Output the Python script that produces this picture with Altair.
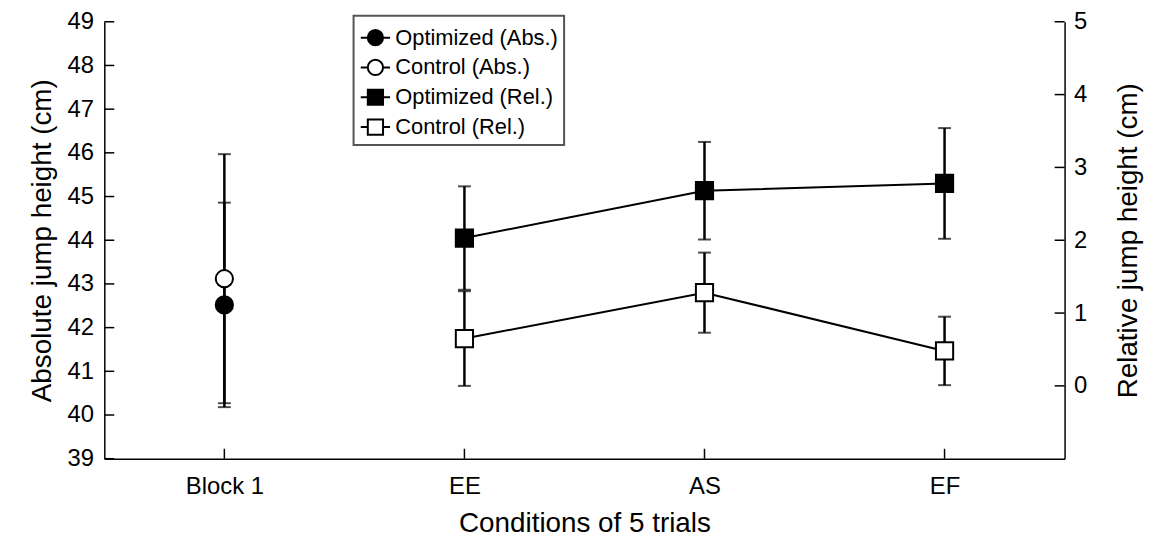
import altair as alt
import pandas as pd

FONT = "Liberation Sans"

# ---------------- data ----------------
categories = ["Block 1", "EE", "AS", "EF"]

abs_series = ["Optimized (Abs.)", "Control (Abs.)"]
abs_mean = [42.52, 43.12]
abs_err = [2.34, 2.85]
abs_fill = ["black", "white"]

rel_conditions = ["EE", "AS", "EF"]
rel_opt_mean = [2.03, 2.68, 2.78]
rel_opt_err = [0.71, 0.67, 0.76]
rel_ctrl_mean = [0.65, 1.28, 0.48]
rel_ctrl_err = [0.65, 0.55, 0.47]

legend_labels = ["Optimized (Abs.)", "Control (Abs.)", "Optimized (Rel.)", "Control (Rel.)"]
legend_fills = ["black", "white", "black", "white"]

left_ticks = list(range(39, 50))
right_ticks = [0, 1, 2, 3, 4, 5]

W, H = 967, 440
TICK = 10

# ---------------- tables ----------------
abs_df = pd.DataFrame({
    "cond": ["Block 1"] * len(abs_series),
    "series": abs_series,
    "mean": abs_mean,
    "lo": [m - e for m, e in zip(abs_mean, abs_err)],
    "hi": [m + e for m, e in zip(abs_mean, abs_err)],
    "fc": abs_fill,
    "shp": ["circle"] * len(abs_series),
})

rel_rows = []
for c, m, e in zip(rel_conditions, rel_opt_mean, rel_opt_err):
    rel_rows.append(dict(cond=c, series="Optimized (Rel.)", mean=m, lo=m - e, hi=m + e, fc="black", shp="square"))
for c, m, e in zip(rel_conditions, rel_ctrl_mean, rel_ctrl_err):
    rel_rows.append(dict(cond=c, series="Control (Rel.)", mean=m, lo=m - e, hi=m + e, fc="white", shp="square"))
rel_df = pd.DataFrame(rel_rows)

legend_df = pd.DataFrame({"series": legend_labels})
left_tick_df = pd.DataFrame({"val": left_ticks})
right_tick_df = pd.DataFrame({"val": right_ticks})
cat_df = pd.DataFrame({"cond": categories})

# ---------------- scales / axes ----------------
common_axis = dict(
    ticks=False, tickSize=0, grid=False, domainColor="black", domainWidth=1.5,
    labelFont=FONT, titleFont=FONT, labelColor="black", titleColor="black",
    labelFontSize=24, titleFontSize=28, titleFontWeight="normal",
)
xscale = alt.Scale(type="point", domain=categories, padding=0.5)
xaxis = alt.Axis(title="Conditions of 5 trials", labelPadding=16, titlePadding=11, labelAngle=0, **common_axis)

lscale = alt.Scale(domain=[39, 49], nice=False, zero=False)
laxis = alt.Axis(title="Absolute jump height (cm)", values=left_ticks, format="d",
                 labelPadding=11, titlePadding=11, orient="left", **common_axis)
rscale = alt.Scale(domain=[-1, 5], nice=False, zero=False)
raxis = alt.Axis(title="Relative jump height (cm)", values=right_ticks, format="d",
                 labelPadding=9, titlePadding=28, orient="right", titleAngle=270,
                 titleBaseline="top", **common_axis)


def X(field="cond"):
    return alt.X(f"{field}:N", scale=xscale, axis=xaxis)


def YL(field):
    return alt.Y(f"{field}:Q", scale=lscale, axis=laxis)


def YR(field):
    return alt.Y(f"{field}:Q", scale=rscale, axis=raxis)


BLACK = "black"

# ---------------- left (absolute) layer ----------------
abs_base = alt.Chart(abs_df)
abs_err_rule = abs_base.mark_rule(color=BLACK, strokeWidth=2.5).encode(x=X(), y=YL("lo"), y2="hi:Q")
abs_cap_lo = abs_base.mark_tick(color=BLACK, thickness=2, size=13).encode(x=X(), y=YL("lo"))
abs_cap_hi = abs_base.mark_tick(color=BLACK, thickness=2, size=13).encode(x=X(), y=YL("hi"))
abs_pts = abs_base.mark_point(filled=True, size=300, stroke=BLACK, strokeWidth=2, opacity=1).encode(
    x=X(), y=YL("mean"),
    shape=alt.Shape("shp:N", scale=None),
    fill=alt.Fill("fc:N", scale=None),
)
left_ticks_rule = alt.Chart(left_tick_df).mark_rule(color=BLACK, strokeWidth=1.5).encode(
    y=YL("val"), x=alt.value(0), x2=alt.value(TICK)
)
bottom_ticks_rule = alt.Chart(cat_df).mark_rule(color=BLACK, strokeWidth=1.5).encode(
    x=X(), y=alt.value(H), y2=alt.value(H - TICK)
)
left_layer = alt.layer(left_ticks_rule, bottom_ticks_rule, abs_err_rule, abs_cap_lo, abs_cap_hi, abs_pts)

# ---------------- right (relative) layer ----------------
rel_base = alt.Chart(rel_df)
rel_lines = rel_base.mark_line(color=BLACK, strokeWidth=2).encode(x=X(), y=YR("mean"), detail="series:N")
rel_err_rule = rel_base.mark_rule(color=BLACK, strokeWidth=2.5).encode(x=X(), y=YR("lo"), y2="hi:Q")
rel_cap_lo = rel_base.mark_tick(color=BLACK, thickness=2, size=13).encode(x=X(), y=YR("lo"))
rel_cap_hi = rel_base.mark_tick(color=BLACK, thickness=2, size=13).encode(x=X(), y=YR("hi"))
rel_pts = rel_base.mark_point(filled=True, size=300, stroke=BLACK, strokeWidth=2, opacity=1).encode(
    x=X(), y=YR("mean"),
    shape=alt.Shape("shp:N", scale=None),
    fill=alt.Fill("fc:N", scale=None),
)
right_ticks_rule = alt.Chart(right_tick_df).mark_rule(color=BLACK, strokeWidth=1.5).encode(
    y=YR("val"), x=alt.value(W - TICK), x2=alt.value(W)
)

circ_path = "M-1,0H-0.52M0.52,0H1M-0.52,0A0.52,0.52,0,1,0,0.52,0A0.52,0.52,0,1,0,-0.52,0Z"
sq_path = "M-1,0H-0.52M0.52,0H1M-0.52,-0.52H0.52V0.52H-0.52Z"
legend_paths = [circ_path, circ_path, sq_path, sq_path]

leg = alt.Legend(
    title=None, orient="none", legendX=251, legendY=-6, direction="vertical",
    symbolSize=870, symbolStrokeWidth=2, symbolStrokeColor=BLACK,
    labelFont=FONT, labelFontSize=22, labelColor="black", labelOffset=4, labelLimit=400,
    padding=6, rowPadding=2, strokeColor="#555555", fillColor="white",
)
legend_layer = alt.Chart(legend_df).transform_filter("false").mark_point(
    filled=True, stroke=BLACK, strokeWidth=2, opacity=1
).encode(
    shape=alt.Shape("series:N", scale=alt.Scale(domain=legend_labels, range=legend_paths), legend=leg),
    fill=alt.Fill("series:N", scale=alt.Scale(domain=legend_labels, range=legend_fills), legend=leg),
)

right_layer = alt.layer(right_ticks_rule, rel_lines, rel_err_rule, rel_cap_lo, rel_cap_hi, rel_pts, legend_layer)

chart = alt.layer(left_layer, right_layer).resolve_scale(y="independent").properties(
    width=W, height=H,
    autosize=alt.AutoSizeParams(type="none"),
    padding={"left": 97, "top": 12, "right": 84, "bottom": 79},
    background="white",
).configure_view(stroke=None).configure_legend(strokeWidth=2)

chart.save("out.html", embed_options={"renderer": "svg", "actions": False})
